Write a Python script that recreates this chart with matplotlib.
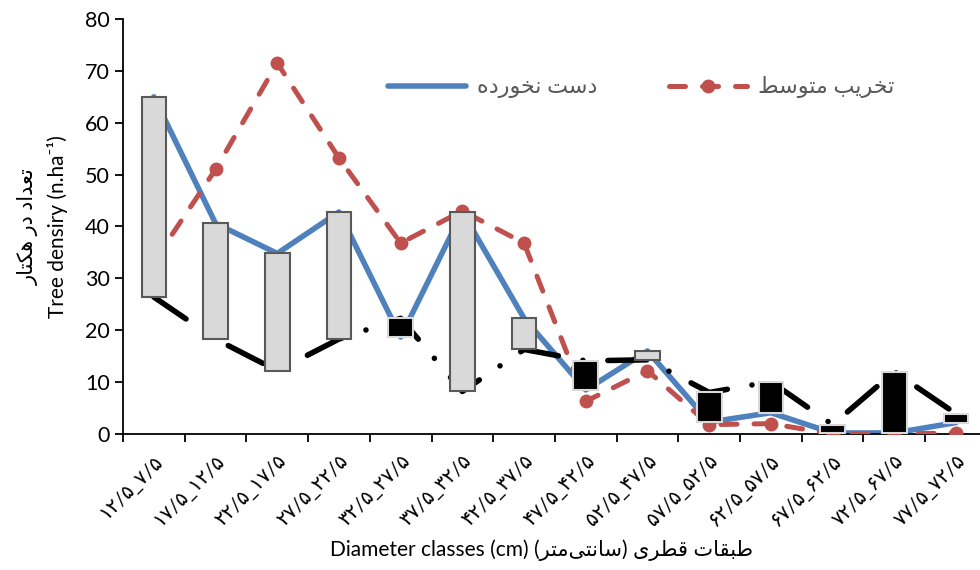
import numpy as np
import matplotlib
matplotlib.use("Agg")
import matplotlib.pyplot as plt

plt.rcParams['font.family'] = ['Lato', 'DejaVu Sans']

# tick labels (Persian diameter classes, visual order)
classes = ["۱۲/۵_۷/۵", "۱۷/۵_۱۲/۵", "۲۲/۵_۱۷/۵", "۲۷/۵_۲۲/۵", "۳۲/۵_۲۷/۵",
           "۳۷/۵_۳۲/۵", "۴۲/۵_۳۷/۵", "۴۷/۵_۴۲/۵", "۵۲/۵_۴۷/۵", "۵۷/۵_۵۲/۵",
           "۶۲/۵_۵۷/۵", "۶۷/۵_۶۲/۵", "۷۲/۵_۶۷/۵", "۷۷/۵_۷۲/۵"]

# series values (trees per hectare)
intact = [65, 40.6, 34.8, 42.8, 18.7, 42.8, 22.3, 8.5, 16.0, 2.3, 4.1, 0.2, 0.2, 2.2]
moderate = [33.2, 51, 71.5, 53.2, 36.8, 43.0, 36.8, 6.3, 12.2, 1.8, 2.0, 0, 0, 0.2]
third = [26.4, 18.3, 12.2, 18.3, 22.3, 8.2, 16.3, 14.1, 14.3, 8.0, 10.1, 1.8, 12.0, 3.9]

name_intact = "دست نخورده"
name_moderate = "تخریب متوسط"
ylab_fa = "تعداد در هکتار"
xlab_fa = "طبقات قطری"
xlab_fa2 = "سانتی‌متر"

# minimal Persian shaping (matplotlib draws no joined forms by itself)
forms = {
    'ا': ('\uFE8D', '\uFE8E', None, None),
    'ب': ('\uFE8F', '\uFE90', '\uFE91', '\uFE92'),
    'ت': ('\uFE95', '\uFE96', '\uFE97', '\uFE98'),
    'خ': ('\uFEA5', '\uFEA6', '\uFEA7', '\uFEA8'),
    'د': ('\uFEA9', '\uFEAA', None, None),
    'ر': ('\uFEAD', '\uFEAE', None, None),
    'س': ('\uFEB1', '\uFEB2', '\uFEB3', '\uFEB4'),
    'ط': ('\uFEC1', '\uFEC2', '\uFEC3', '\uFEC4'),
    'ع': ('\uFEC9', '\uFECA', '\uFECB', '\uFECC'),
    'ق': ('\uFED5', '\uFED6', '\uFED7', '\uFED8'),
    'ک': ('\uFB8E', '\uFB8F', '\uFB90', '\uFB91'),
    'م': ('\uFEE1', '\uFEE2', '\uFEE3', '\uFEE4'),
    'ن': ('\uFEE5', '\uFEE6', '\uFEE7', '\uFEE8'),
    'و': ('\uFEED', '\uFEEE', None, None),
    'ه': ('\uFEE9', '\uFEEA', '\uFEEB', '\uFEEC'),
    'ی': ('\uFBFC', '\uFBFD', '\uFBFE', '\uFBFF'),
}


def fa(text):
    out = []
    for i, c in enumerate(text):
        if c not in forms:
            out.append(c)
            continue
        prev = text[i - 1] if i > 0 else ''
        nxt = text[i + 1] if i + 1 < len(text) else ''
        jp = prev in forms and forms[prev][2] is not None
        jn = nxt in forms and forms[c][2] is not None
        f = forms[c]
        if jp and jn:
            out.append(f[3])
        elif jp:
            out.append(f[1])
        elif jn:
            out.append(f[2])
        else:
            out.append(f[0])
    return ''.join(ch for ch in reversed(out) if ch != '\u200c')


x = np.arange(len(classes))
fig = plt.figure(figsize=(9.8, 5.7), dpi=100)
ax = fig.add_axes([0.1255, 0.2386, 0.8815, 0.7281])

ax.plot(x, intact, color='#4f81bd', lw=4, solid_capstyle='round', zorder=2,
        label=fa(name_intact))
ax.plot(x, third, color='black', lw=4, dashes=(7, 4.5, 0.01, 4.5),
        dash_capstyle='round', zorder=3)
ax.plot(x, moderate, color='#c0504d', lw=3.6, dashes=(3.2, 3.4),
        dash_capstyle='round', marker='o', ms=9, zorder=4,
        label=fa(name_moderate))

# up/down bars between first and last series
for xi, a, b in zip(x, third, intact):
    if b >= a:
        ax.bar(xi, b - a, bottom=a, width=0.4, color='#d9d9d9',
               edgecolor='#595959', lw=1.5, zorder=5)
    else:
        ax.bar(xi, a - b, bottom=b, width=0.4, color='black',
               edgecolor='#d9d9d9', lw=1.5, zorder=5)

ax.set_xlim(-0.5, len(classes) - 0.5)
ax.set_ylim(0, 80)
ax.set_yticks(range(0, 81, 10))
ax.set_xticks(np.arange(-0.5, len(classes), 1))
ax.set_xticklabels([])
ax.set_xticks(x, minor=True)
ax.set_xticklabels(classes, minor=True, rotation=45, ha='right',
                   rotation_mode='anchor', fontsize=14.5)
ax.tick_params(axis='x', which='minor', length=0, pad=13)
ax.tick_params(axis='both', which='major', length=6, width=1.3,
               labelsize=15.5, direction='out')
for s in ['top', 'right']:
    ax.spines[s].set_visible(False)
for s in ['left', 'bottom']:
    ax.spines[s].set_linewidth(1.3)

ax.set_ylabel(fa(ylab_fa) + "\n" + "Tree densiry (n.ha⁻¹)", fontsize=15,
              linespacing=1.45)
ax.yaxis.set_label_coords(-0.064, 0.5)
ax.set_xlabel("Diameter classes (cm) (" + fa(xlab_fa2) + ") " + fa(xlab_fa),
              fontsize=15)
ax.xaxis.set_label_coords(0.485, -0.255)

leg = ax.legend(loc='center', bbox_to_anchor=(0.6, 0.835), ncol=2,
                frameon=False, fontsize=16, handlelength=3.5,
                columnspacing=3.2, handletextpad=0.5, numpoints=1)
for t in leg.get_texts():
    t.set_color('#595959')

fig.savefig('out.png', dpi=100)
